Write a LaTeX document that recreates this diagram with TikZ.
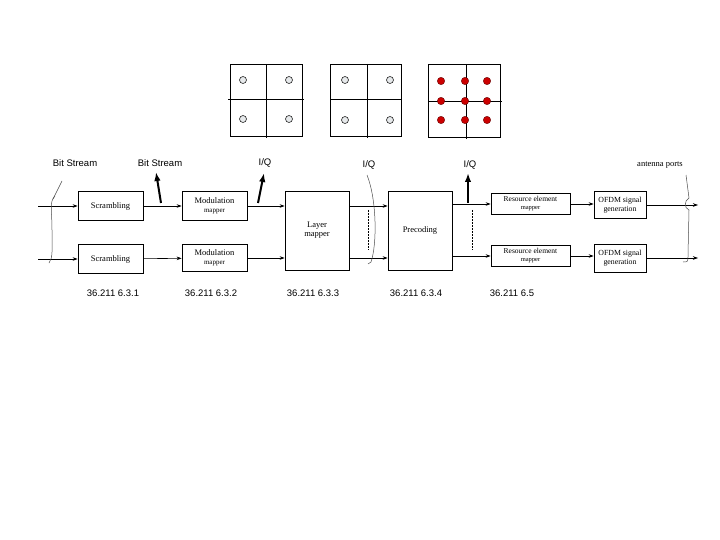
\documentclass[tikz,border=0pt]{standalone}
\usepackage{fontspec}
\setmainfont{Liberation Serif}
\newfontfamily\arialfont{Liberation Sans}
\usetikzlibrary{arrows.meta}
\tikzset{
  blk/.style={draw,line width=0.7pt,align=center,inner sep=0pt,font=\fontsize{8.5}{9}\selectfont},
  sig/.style={-{Stealth[length=5pt,width=3.5pt]},line width=0.6pt},
  iqarr/.style={-{Latex[length=9pt,width=6.5pt]},line width=2pt},
  lbl/.style={font=\arialfont\fontsize{9.5}{11}\selectfont},
  brc/.style={line width=0.5pt,black!70},
  qpsk/.style={draw=black!85,fill=cyan!10!gray!20,line width=0.6pt},
  qam/.style={fill=red!80!black,draw=red!40!black,line width=0.4pt}
}
\begin{document}
\begin{tikzpicture}[x=1pt,y=-1pt]
\useasboundingbox[fill=white] (0,0) rectangle (720,540);
\draw[line width=0.8pt] (230,64) rectangle (302,136);
\draw[line width=0.8pt] (228,99) -- (304,99) (266,64) -- (266,138);
\foreach \x in {243,289} \foreach \y in {80,119}
  \draw[qpsk] (\x,\y) circle (3.5pt);
\draw[line width=0.8pt] (330,64) rectangle (401,136);
\draw[line width=0.8pt] (330,99) -- (401,99) (367,64) -- (367,138);
\foreach \x in {345,390} \foreach \y in {80,120}
  \draw[qpsk] (\x,\y) circle (3.5pt);
\draw[line width=0.8pt] (428,64) rectangle (500,137);
\draw[line width=0.8pt] (428,101) -- (502,101) (466,64) -- (466,139);
\foreach \x in {441,465,487} \foreach \y in {81,101,120}
  \draw[qam] (\x,\y) circle (3.7pt);

\node[blk,minimum width=65pt,minimum height=29pt] (scrA) at (110.5,206) {Scrambling};
\node[blk,minimum width=65pt,minimum height=29pt] (scrB) at (110.5,259) {Scrambling};
\node[blk,minimum width=65pt,minimum height=29pt] (modA) at (214.5,206) {Modulation\\{\fontsize{7}{8}\selectfont mapper}};
\node[blk,minimum width=65pt,minimum height=27pt] (modB) at (214.5,258) {Modulation\\{\fontsize{7}{8}\selectfont mapper}};
\node[blk,minimum width=64pt,minimum height=79pt] (layer) at (317,230.5) {Layer\\mapper};
\node[blk,minimum width=64pt,minimum height=79pt] (prec) at (420,230.5) {Precoding};
\node[blk,minimum width=79pt,minimum height=21pt,font=\fontsize{7.5}{8}\selectfont] (reA) at (530.5,204) {Resource element\\{\fontsize{6.5}{7}\selectfont mapper}};
\node[blk,minimum width=79pt,minimum height=21pt,font=\fontsize{7.5}{8}\selectfont] (reB) at (530.5,256) {Resource element\\{\fontsize{6.5}{7}\selectfont mapper}};
\node[blk,minimum width=52pt,minimum height=27pt,font=\fontsize{7.8}{9}\selectfont] (ofdmA) at (620,205) {OFDM signal\\generation};
\node[blk,minimum width=52pt,minimum height=28pt,font=\fontsize{7.8}{9}\selectfont] (ofdmB) at (620,258) {OFDM signal\\generation};

\coordinate (inA) at (38,206);
\coordinate (inB) at (38,259);
\coordinate (outA) at (698,205);
\coordinate (outB) at (698,258);
\draw[sig] (inA) -- (scrA.west);
\draw[sig] (inB) -- (scrB.west);
\draw[sig] (scrA) -- (modA);
\draw[sig] (scrB) -- (modB);
\draw[sig] (modA.east) -- (modA.east -| layer.west);
\draw[sig] (modB.east) -- (modB.east -| layer.west);
\draw[sig] (modA.east -| layer.east) -- (modA.east -| prec.west);
\draw[sig] (modB.east -| layer.east) -- (modB.east -| prec.west);
\draw[sig] (reA.west -| prec.east) -- (reA.west);
\draw[sig] (reB.west -| prec.east) -- (reB.west);
\draw[sig] (reA) -- (ofdmA.west |- reA);
\draw[sig] (reB) -- (ofdmB.west |- reB);
\draw[sig] (ofdmA) -- (outA);
\draw[sig] (ofdmB) -- (outB);

\node[lbl] (bs1) at (75,163) {Bit Stream};
\node[lbl] (bs2) at (160,163) {Bit Stream};
\node[lbl] (iq1) at (265,163) {I/Q};
\node[lbl] (iq2) at (369,165) {I/Q};
\node[lbl] (iq3) at (470,165) {I/Q};
\node[font=\fontsize{8.5}{9}\selectfont] (ant) at (660,165) {antenna ports};

\coordinate (b2) at (161,203);
\coordinate (i1) at (258,203);
\coordinate (i3) at (468,203);
\draw[iqarr] (b2) -- (156,172);
\draw[iqarr] (i1) -- (264,173);
\draw[iqarr] (i3) -- (468,173);

\draw[brc] (62,181) -- (53,199);
\draw[brc] (55,196) .. controls (49,202) and (52,210) .. (52,230) .. controls (52,250) and (53,258) .. (49,263);
\draw[brc] (367,175) .. controls (377,200) and (377,245) .. (371,262) -- (368,264);
\draw[brc] (686,175) -- (689,198) .. controls (684,201) and (684,208) .. (689,210) -- (688,255) .. controls (688,262) .. (683,262);
\draw[dashed,line width=0.7pt,dash pattern=on 2pt off 1pt] (368,210) -- (368,250);
\draw[dashed,line width=0.7pt,dash pattern=on 2pt off 1pt] (472,210) -- (472,250);

\node[lbl] (s1) at (113,293) {36.211 6.3.1};
\node[lbl] (s2) at (211,293) {36.211 6.3.2};
\node[lbl] (s3) at (313,293) {36.211 6.3.3};
\node[lbl] (s4) at (416,293) {36.211 6.3.4};
\node[lbl] (s5) at (512,293) {36.211 6.5};
\end{tikzpicture}
\end{document}
